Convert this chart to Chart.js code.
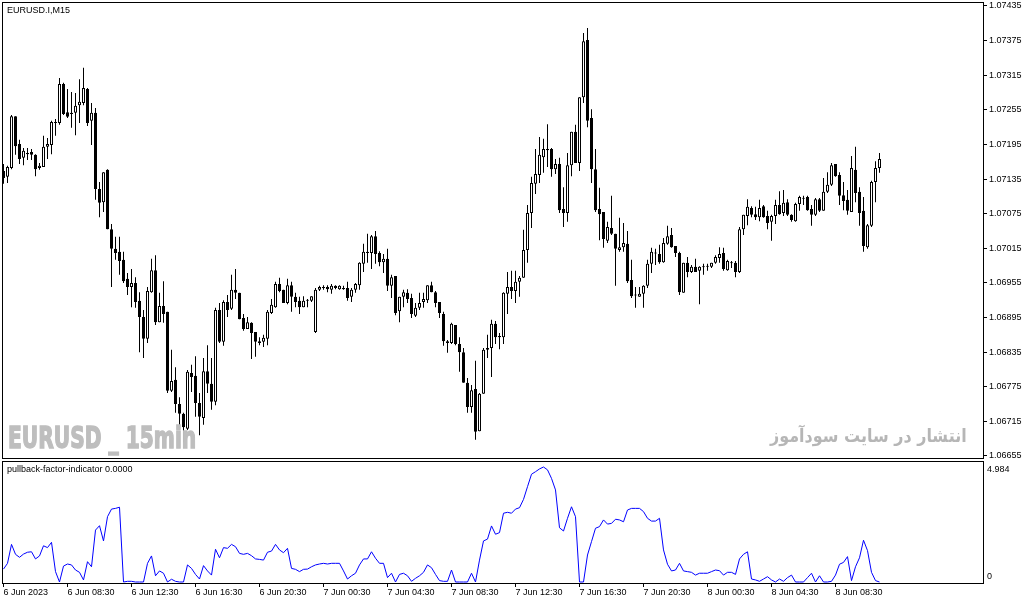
<!DOCTYPE html>
<html>
<head>
<meta charset="utf-8">
<script src="https://cdn.jsdelivr.net/npm/chart.js@4.4.1/dist/chart.umd.min.js"></script>
<style>
  html, body { margin: 0; padding: 0; background: #fff; overflow: hidden; }
  #wrap { position: relative; width: 1029px; height: 604px; }
  canvas { position: absolute; left: 0; }
  #c1 { top: 0; }
  #c2 { top: 459px; }
  .lbl { position: absolute; font-family: 'Liberation Sans', Arial, sans-serif; font-size: 9px; color: #000; white-space: nowrap; line-height: 9px; }
  .wm { position: absolute; white-space: nowrap; font-family: 'DejaVu Sans', sans-serif; font-weight: bold; transform-origin: 0 0; }
</style>
</head>
<body>
<div id="wrap">
  <canvas id="c1" width="1029" height="464"></canvas>
  <canvas id="c2" width="1029" height="145"></canvas>
  <div class="lbl" style="left:7px; top:6px;">EURUSD.I,M15</div>
  <div class="lbl" style="left:7px; top:465px;">pullback-factor-indicator 0.0000</div>
  <div id="wm1" class="wm" style="left:8px; top:423px; font-size:30px; line-height:30px; color:#bebebe; -webkit-text-stroke:1.5px #bebebe;">EURUSD _ 15min</div>
  <div id="wm2" class="wm" dir="rtl" style="left:770px; top:426px; font-size:18px; line-height:20px; color:#b6b6b6;">انتشار در سایت سودآموز</div>
</div>
<script>
// EURUSD M15, 220 bars starting 6 Jun 2023 04:30
const opens = [
  1.07149,1.07139,1.07154,1.07244,1.07196,1.07172,1.07180,1.07182,1.07177,1.07154,
  1.07156,1.07191,1.07194,1.07232,1.07232,1.07300,1.07251,1.07250,1.07250,1.07263,
  1.07267,1.07291,1.07236,1.07250,1.07118,1.07095,1.07151,1.07048,1.07014,1.07009,
  1.06995,1.06962,1.06948,1.06955,1.06924,1.06896,1.06858,1.06939,1.06977,1.06887,
  1.06915,1.06905,1.06768,1.06787,1.06745,1.06728,1.06702,1.06799,1.06794,1.06747,
  1.06721,1.06802,1.06780,1.06749,1.06908,1.06853,1.06922,1.06910,1.06943,1.06938,
  1.06894,1.06875,1.06886,1.06870,1.06854,1.06853,1.06858,1.06903,1.06913,1.06953,
  1.06943,1.06920,1.06951,1.06931,1.06924,1.06913,1.06924,1.06924,1.06870,1.06943,
  1.06946,1.06948,1.06943,1.06950,1.06944,1.06946,1.06946,1.06931,1.06943,1.06951,
  1.06988,1.07009,1.07007,1.07036,1.07007,1.06991,1.06997,1.06950,1.06967,1.06906,
  1.06931,1.06938,1.06929,1.06898,1.06912,1.06922,1.06925,1.06951,1.06939,1.06922,
  1.06901,1.06854,1.06851,1.06882,1.06849,1.06835,1.06782,1.06740,1.06771,1.06698,
  1.06763,1.06839,1.06842,1.06884,1.06863,1.06861,1.06936,1.06948,1.06941,1.06957,
  1.06964,1.07012,1.07076,1.07127,1.07142,1.07173,1.07187,1.07187,1.07152,1.07161,
  1.07083,1.07076,1.07159,1.07217,1.07163,1.07277,1.07376,1.07241,1.07152,1.07083,
  1.07078,1.07028,1.07050,1.07040,1.07012,1.07017,1.07023,1.06960,1.06934,1.06931,
  1.06936,1.06950,1.06988,1.07007,1.07005,1.06991,1.07023,1.07038,1.07019,1.07007,
  1.06938,1.06990,1.06974,1.06983,1.06976,1.06983,1.06983,1.06983,1.06990,1.06998,
  1.07007,1.06977,1.06990,1.06990,1.06974,1.07048,1.07071,1.07085,1.07074,1.07069,
  1.07088,1.07071,1.07061,1.07071,1.07090,1.07076,1.07095,1.07073,1.07062,1.07092,
  1.07102,1.07104,1.07083,1.07073,1.07100,1.07080,1.07113,1.07125,1.07161,1.07142,
  1.07107,1.07099,1.07078,1.07151,1.07113,1.07080,1.07017,1.07054,1.07130,1.07154
];
const highs = [
  1.07161,1.07158,1.07246,1.07244,1.07203,1.07189,1.07189,1.07187,1.07178,1.07163,
  1.07210,1.07206,1.07236,1.07239,1.07310,1.07302,1.07291,1.07286,1.07284,1.07308,
  1.07328,1.07293,1.07267,1.07258,1.07130,1.07147,1.07152,1.07057,1.07035,1.07035,
  1.07009,1.06972,1.06979,1.06965,1.06939,1.06908,1.06948,1.06997,1.07003,1.06938,
  1.06958,1.06905,1.06839,1.06809,1.06757,1.06730,1.06804,1.06813,1.06828,1.06764,
  1.06825,1.06847,1.06825,1.06912,1.06920,1.06925,1.06934,1.06969,1.06979,1.06938,
  1.06901,1.06896,1.06887,1.06870,1.06861,1.06865,1.06908,1.06927,1.06957,1.06964,
  1.06943,1.06962,1.06957,1.06938,1.06931,1.06932,1.06927,1.06932,1.06946,1.06950,
  1.06951,1.06951,1.06953,1.06951,1.06951,1.06950,1.06957,1.06946,1.06955,1.06991,
  1.07023,1.07040,1.07038,1.07045,1.07010,1.07005,1.07014,1.06969,1.06967,1.06931,
  1.06943,1.06944,1.06936,1.06920,1.06938,1.06938,1.06951,1.06957,1.06941,1.06922,
  1.06905,1.06856,1.06886,1.06882,1.06861,1.06842,1.06790,1.06778,1.06820,1.06764,
  1.06842,1.06865,1.06891,1.06889,1.06868,1.06939,1.06974,1.06976,1.06976,1.06967,
  1.07047,1.07090,1.07139,1.07187,1.07208,1.07205,1.07230,1.07189,1.07170,1.07172,
  1.07121,1.07180,1.07217,1.07229,1.07277,1.07388,1.07397,1.07256,1.07187,1.07120,
  1.07078,1.07061,1.07106,1.07040,1.07068,1.07059,1.07045,1.06995,1.06948,1.06948,
  1.06951,1.06995,1.07016,1.07014,1.07021,1.07033,1.07054,1.07050,1.07019,1.07009,
  1.06990,1.07000,1.06986,1.06997,1.06984,1.06988,1.06988,1.06990,1.07003,1.07017,
  1.07016,1.06995,1.06993,1.06993,1.07052,1.07073,1.07100,1.07088,1.07087,1.07099,
  1.07090,1.07080,1.07073,1.07099,1.07114,1.07116,1.07100,1.07074,1.07094,1.07106,
  1.07106,1.07106,1.07090,1.07102,1.07102,1.07137,1.07147,1.07163,1.07161,1.07147,
  1.07130,1.07116,1.07175,1.07191,1.07121,1.07104,1.07057,1.07132,1.07166,1.07180
];
const lows = [
  1.07127,1.07128,1.07152,1.07177,1.07161,1.07159,1.07168,1.07168,1.07140,1.07151,
  1.07156,1.07170,1.07178,1.07210,1.07229,1.07246,1.07241,1.07224,1.07211,1.07232,
  1.07263,1.07227,1.07194,1.07099,1.07069,1.07078,1.07048,1.06948,1.06995,1.06969,
  1.06955,1.06934,1.06913,1.06912,1.06835,1.06825,1.06851,1.06938,1.06882,1.06887,
  1.06886,1.06764,1.06766,1.06730,1.06704,1.06679,1.06700,1.06766,1.06723,1.06691,
  1.06709,1.06764,1.06735,1.06743,1.06851,1.06846,1.06896,1.06908,1.06927,1.06892,
  1.06872,1.06875,1.06823,1.06827,1.06847,1.06844,1.06847,1.06901,1.06912,1.06939,
  1.06920,1.06918,1.06905,1.06913,1.06901,1.06913,1.06913,1.06922,1.06868,1.06941,
  1.06943,1.06939,1.06936,1.06944,1.06943,1.06943,1.06924,1.06922,1.06938,1.06943,
  1.06974,1.06990,1.06979,1.06988,1.06984,1.06972,1.06941,1.06929,1.06899,1.06887,
  1.06913,1.06920,1.06894,1.06896,1.06908,1.06912,1.06920,1.06939,1.06913,1.06894,
  1.06846,1.06834,1.06849,1.06847,1.06801,1.06782,1.06730,1.06730,1.06683,1.06698,
  1.06763,1.06825,1.06792,1.06849,1.06840,1.06849,1.06901,1.06927,1.06920,1.06931,
  1.06964,1.06990,1.07050,1.07109,1.07128,1.07146,1.07156,1.07139,1.07144,1.07076,
  1.07052,1.07061,1.07140,1.07163,1.07149,1.07267,1.07225,1.07128,1.07078,1.07029,
  1.07016,1.07024,1.07038,1.06950,1.07009,1.07009,1.06955,1.06929,1.06912,1.06931,
  1.06912,1.06946,1.06972,1.06986,1.06988,1.06990,1.07021,1.07016,1.07000,1.06934,
  1.06938,1.06965,1.06972,1.06974,1.06918,1.06969,1.06976,1.06981,1.06988,1.06990,
  1.06976,1.06976,1.06981,1.06965,1.06972,1.07038,1.07055,1.07069,1.07064,1.07062,
  1.07068,1.07048,1.07028,1.07057,1.07073,1.07071,1.07071,1.07061,1.07061,1.07080,
  1.07090,1.07080,1.07054,1.07071,1.07078,1.07080,1.07111,1.07123,1.07139,1.07090,
  1.07081,1.07073,1.07078,1.07095,1.07054,1.07009,1.07014,1.07052,1.07095,1.07146
];
const closes = [
  1.07137,1.07156,1.07244,1.07192,1.07170,1.07184,1.07178,1.07177,1.07152,1.07158,
  1.07191,1.07196,1.07234,1.07234,1.07300,1.07248,1.07243,1.07248,1.07262,1.07269,
  1.07293,1.07232,1.07250,1.07118,1.07094,1.07147,1.07048,1.07014,1.07007,1.06993,
  1.06958,1.06948,1.06955,1.06922,1.06896,1.06858,1.06941,1.06977,1.06887,1.06915,
  1.06901,1.06768,1.06785,1.06745,1.06728,1.06705,1.06801,1.06792,1.06747,1.06723,
  1.06802,1.06780,1.06749,1.06908,1.06853,1.06922,1.06908,1.06943,1.06938,1.06892,
  1.06875,1.06887,1.06868,1.06853,1.06851,1.06860,1.06905,1.06917,1.06953,1.06941,
  1.06920,1.06951,1.06931,1.06922,1.06913,1.06924,1.06925,1.06932,1.06943,1.06948,
  1.06947,1.06944,1.06950,1.06946,1.06950,1.06944,1.06929,1.06943,1.06953,1.06990,
  1.07009,1.07007,1.07036,1.07005,1.06991,1.06997,1.06950,1.06965,1.06903,1.06931,
  1.06939,1.06927,1.06901,1.06912,1.06920,1.06927,1.06951,1.06939,1.06920,1.06903,
  1.06854,1.06851,1.06884,1.06849,1.06835,1.06782,1.06740,1.06769,1.06697,1.06763,
  1.06839,1.06842,1.06884,1.06861,1.06861,1.06938,1.06948,1.06941,1.06957,1.06964,
  1.07012,1.07076,1.07128,1.07144,1.07177,1.07187,1.07185,1.07152,1.07161,1.07081,
  1.07076,1.07159,1.07217,1.07163,1.07277,1.07374,1.07236,1.07152,1.07081,1.07074,
  1.07031,1.07052,1.07040,1.07014,1.07017,1.07024,1.06958,1.06932,1.06933,1.06936,
  1.06950,1.06988,1.07009,1.07006,1.06991,1.07024,1.07036,1.07017,1.07007,1.06939,
  1.06990,1.06974,1.06983,1.06974,1.06983,1.06982,1.06984,1.06990,1.07000,1.07005,
  1.06979,1.06993,1.06989,1.06974,1.07048,1.07073,1.07087,1.07073,1.07069,1.07085,
  1.07069,1.07059,1.07071,1.07090,1.07074,1.07094,1.07073,1.07064,1.07092,1.07104,
  1.07101,1.07081,1.07073,1.07100,1.07080,1.07113,1.07125,1.07159,1.07140,1.07106,
  1.07097,1.07080,1.07154,1.07111,1.07076,1.07019,1.07055,1.07130,1.07154,1.07170
];
// pullback-factor-indicator, one value per bar
const pullback = [
  0.56,0.81,1.63,1.20,1.07,1.21,1.29,1.31,1.00,1.13,
  1.57,1.49,1.72,0.45,0,0.69,0.78,0.74,0.52,0.42,
  0.09,0.88,0.66,2.25,2.44,1.78,2.83,3.16,3.19,3.24,
  0,0.03,0.03,0,0,0,0.81,1.13,0.27,0.48,
  0.38,0,0.12,0.03,0,0,0.74,0.59,0.33,0.13,
  0.71,0.48,0.30,1.42,1.05,1.49,1.46,1.63,1.53,1.24,
  1.20,1.24,1.14,1.00,0.98,0.95,1.29,1.34,1.63,1.39,
  1.27,1.46,0.59,0.55,0.45,0.55,0.56,0.66,0.74,0.78,
  0.81,0.78,0.81,0.81,0.81,0.48,0.13,0.27,0.38,0.74,
  1.00,1.00,1.31,1.03,0.81,0.81,0.19,0.38,0,0.33,
  0.38,0.27,0.03,0.16,0.27,0.42,0.74,0.62,0.33,0.06,
  0.03,0.03,0.52,0,0,0,0,0.38,0,0.95,
  1.78,1.86,2.43,2.07,2.14,2.98,3.02,2.98,3.16,3.22,
  3.58,4.13,4.67,4.78,4.90,4.984,4.86,4.49,3.99,2.35,
  2.21,2.76,3.26,2.83,0,0,1.17,1.75,2.33,2.40,
  2.69,2.51,2.54,2.72,2.69,2.61,3.12,3.19,3.19,3.19,
  3.05,2.76,2.64,2.64,2.76,1.39,0.77,0.48,0.52,0.81,
  0.48,0.45,0.42,0.30,0.38,0.38,0.38,0.45,0.52,0.49,
  0.30,0.42,0.42,0.33,1.00,1.20,1.31,0.13,0.09,0.03,
  0.13,0.23,0.09,0,0.13,0.03,0.19,0.30,0,0,
  0,0.19,0.38,0,0.27,0,0,0.03,0.30,0.77,
  0.85,1.10,0.06,0.66,1.05,1.81,1.36,0.42,0.06,0
];
const priceTicks = [1.06655, 1.06715, 1.06775, 1.06835, 1.06895, 1.06955, 1.07015,
                    1.07075, 1.07135, 1.07195, 1.07255, 1.07315, 1.07375, 1.07435];
const indTicks = [0, 4.984];
const timeTickBars = [0, 16, 32, 48, 64, 80, 96, 112, 128, 144, 160, 176, 192, 208];
const timeLabels = ['6 Jun 2023', '6 Jun 08:30', '6 Jun 12:30', '6 Jun 16:30', '6 Jun 20:30',
                    '7 Jun 00:30', '7 Jun 04:30', '7 Jun 08:30', '7 Jun 12:30', '7 Jun 16:30',
                    '7 Jun 20:30', '8 Jun 00:30', '8 Jun 04:30', '8 Jun 08:30'];

Chart.defaults.font.family = "'Liberation Sans', Arial, sans-serif";
Chart.defaults.font.size = 9;
Chart.defaults.color = '#000';

// 4px per bar, chart shifted so there is room on the right
const X_MIN = -0.125;
const X_MAX = 244.875;
const AXIS_W = 46;

const bodies = opens.map((o, i) => ({ x: i, y: [o, closes[i]] }));
const wicks = lows.map((l, i) => ({ x: i, y: [l, highs[i]] }));
const line = pullback.map((v, i) => ({ x: i, y: v }));

const frame = {
    id: 'frame',
    afterDraw(chart) {
        const { ctx, chartArea: a } = chart;
        ctx.save();
        ctx.strokeStyle = '#000';
        ctx.lineWidth = 1;
        ctx.strokeRect(a.left - 0.5, a.top - 0.5, a.right - a.left + 1, a.bottom - a.top + 1);
        ctx.restore();
    }
};

function fixWidth(s) {
    s.width = AXIS_W;
    s.paddingTop = 0;
    s.paddingBottom = 0;
}

new Chart(document.getElementById('c1'), {
    type: 'bar',
    data: {
        datasets: [
            {
                label: 'body',
                data: bodies,
                order: 0,
                grouped: false,
                barThickness: 3,
                minBarLength: 1,
                borderWidth: 1,
                borderSkipped: false,
                inflateAmount: 0,
                borderColor: '#000',
                backgroundColor: (c) => closes[c.dataIndex] >= opens[c.dataIndex] ? '#ffffff' : '#000000'
            },
            {
                label: 'wick',
                data: wicks,
                order: 1,
                grouped: false,
                barThickness: 1,
                borderWidth: 0,
                inflateAmount: 0,
                backgroundColor: '#000'
            }
        ]
    },
    options: {
        responsive: false,
        animation: false,
        events: [],
        layout: { padding: { left: 3, top: 3, right: 0, bottom: 6 } },
        plugins: { legend: { display: false }, tooltip: { enabled: false } },
        scales: {
            x: { type: 'linear', min: X_MIN, max: X_MAX, offset: false, display: false },
            y: {
                position: 'right',
                min: 1.066515,
                max: 1.074402,
                afterFit: fixWidth,
                afterBuildTicks: (s) => { s.ticks = priceTicks.map(v => ({ value: v })); },
                ticks: { callback: (v) => v.toFixed(5), padding: 2, autoSkip: false, color: '#000' },
                grid: { drawOnChartArea: false, tickLength: 4, tickColor: '#000' },
                border: { color: '#000' }
            }
        }
    },
    plugins: [frame]
});

const indLabels = {
    id: 'indLabels',
    afterDraw(chart) {
        const { ctx, scales } = chart;
        const y = scales.y;
        ctx.save();
        ctx.fillStyle = '#000';
        ctx.font = "9px 'Liberation Sans', Arial, sans-serif";
        ctx.textBaseline = 'alphabetic';
        indTicks.forEach(v => {
            const py = y.getPixelForValue(v);
            const off = v === 0 ? -3 : 5;
            ctx.fillText(String(v), chart.chartArea.right + 4, py + off);
        });
        ctx.restore();
    }
};

new Chart(document.getElementById('c2'), {
    type: 'line',
    data: {
        datasets: [{
            label: 'pullback-factor-indicator',
            data: line,
            borderColor: '#0000ff',
            borderWidth: 1,
            pointRadius: 0,
            tension: 0,
            fill: false
        }]
    },
    options: {
        responsive: false,
        animation: false,
        events: [],
        layout: { padding: { left: 3, top: 3, right: 0, bottom: 0 } },
        plugins: { legend: { display: false }, tooltip: { enabled: false } },
        scales: {
            x: {
                type: 'linear',
                min: X_MIN,
                max: X_MAX,
                offset: false,
                afterFit: (s) => { s.height = 21; s.paddingLeft = 0; s.paddingRight = 0; },
                afterBuildTicks: (s) => { s.ticks = timeTickBars.map(v => ({ value: v })); },
                ticks: {
                    callback: (v, i) => timeLabels[i],
                    align: 'start',
                    autoSkip: false,
                    maxRotation: 0,
                    padding: 0,
                    color: '#000'
                },
                grid: { drawOnChartArea: false, tickLength: 4, tickColor: '#000' },
                border: { color: '#000' }
            },
            y: {
                position: 'right',
                min: -0.043,
                max: 5.2,
                afterFit: fixWidth,
                ticks: { display: false },
                grid: { display: false },
                border: { display: false }
            }
        }
    },
    plugins: [frame, indLabels]
});

// squeeze the watermark texts to their widths in the picture
function fit(id, w) {
    const el = document.getElementById(id);
    el.style.transform = 'scaleX(' + (w / el.offsetWidth) + ')';
}
fit('wm1', 188);
fit('wm2', 197);
</script>
</body>
</html>
